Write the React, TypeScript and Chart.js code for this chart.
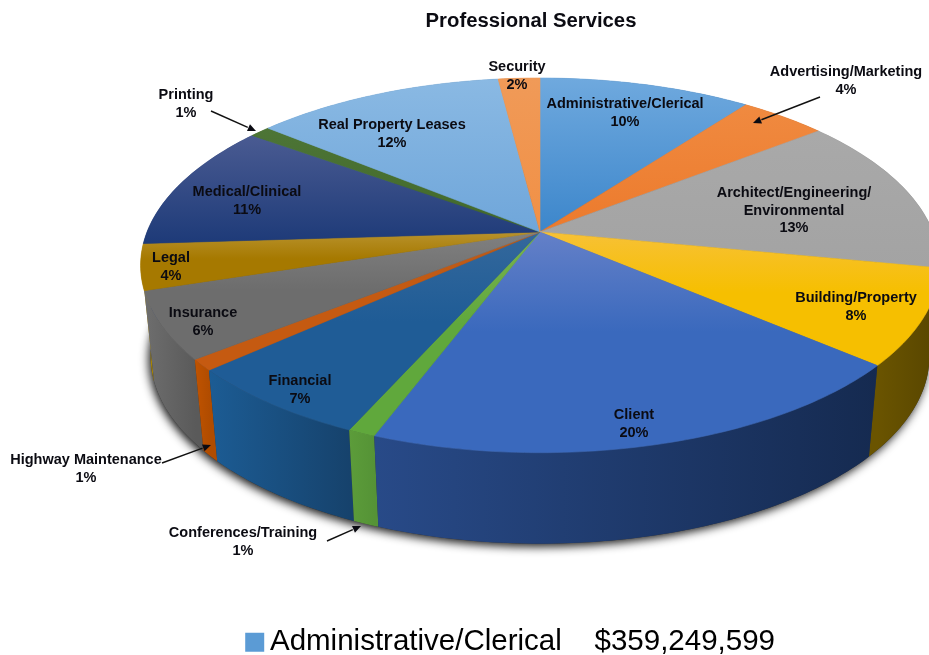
import React, { useEffect, useRef } from "react";
import { Chart, PieController, ArcElement, Legend, Title } from "chart.js";

const categories = [
  "Administrative/Clerical",
  "Advertising/Marketing",
  "Architect/Engineering/Environmental",
  "Building/Property",
  "Client",
  "Conferences/Training",
  "Financial",
  "Highway Maintenance",
  "Insurance",
  "Legal",
  "Medical/Clinical",
  "Printing",
  "Real Property Leases",
  "Security",
];
const sharePercent = [10, 4, 13, 8, 20, 1, 7, 1, 6, 4, 11, 1, 12, 2];
const legendCategory = "Administrative/Clerical";
const legendAmount = "$359,249,599";

// Face colours run top to bottom, rim colours run left to right.
const faceTop = ["#6fa9de", "#f08a40", "#a9a9a9", "#f7c136", "#6480c8", "#79b34f", "#34689c", "#b85a1a", "#808080", "#b8922c", "#4a5b92", "#4d7536", "#8ab9e3", "#f09a58"];
const faceBottom = ["#3c86cb", "#ec7a2c", "#a3a3a3", "#f6bf00", "#3a69bd", "#60a83c", "#1f5c96", "#c55a11", "#6d6d6d", "#a67900", "#1d3a78", "#41682a", "#6fa6da", "#f19045"];
const rimLeft = ["#3c6ea0", "#b05a20", "#7a7a7a", "#6a5400", "#284a88", "#5c9c3a", "#1c5c94", "#c05300", "#6e6e6e", "#a88400", "#1a3060", "#3a5a25", "#5a8ab5", "#b06a30"];
const rimRight = ["#2e5680", "#8a4518", "#5f5f5f", "#574500", "#152a50", "#559336", "#16426c", "#b04c00", "#5a5a5a", "#a88400", "#1a3060", "#3a5a25", "#4a7298", "#8a5225"];

// Text placed on or beside the pie: category lines plus the percentage line.
const labelLines = [
  ["Administrative/Clerical", "10%"],
  ["Advertising/Marketing", "4%"],
  ["Architect/Engineering/", "Environmental", "13%"],
  ["Building/Property", "8%"],
  ["Client", "20%"],
  ["Conferences/Training", "1%"],
  ["Financial", "7%"],
  ["Highway Maintenance", "1%"],
  ["Insurance", "6%"],
  ["Legal", "4%"],
  ["Medical/Clinical", "11%"],
  ["Printing", "1%"],
  ["Real Property Leases", "12%"],
  ["Security", "2%"],
];
const labelAnchor = [
  [625, 104], [846, 72], [794, 193], [856, 298], [634, 415], [243, 533], [300, 381],
  [86, 460], [203, 313], [171, 258], [247, 192], [186, 95], [392, 125], [517, 67],
];
const leaders = [
  [211, 111, 256, 131],
  [820, 97, 753, 123],
  [162, 463, 211, 445],
  [327, 541, 361, 526],
];

// Pie projection: a disc tilted away from the viewer.
const CX = 540;
const CY = 232;
const RX = 393;
const RY = 181.4;
const TILT = 0.178;
const DEPTH = 91;
const BASE_SHRINK = 0.975;
const FONT = '"Liberation Sans", Arial, sans-serif';

function rimPoint(fraction: number, lower: boolean) {
  const t = ((fraction % 1) + 1) % 1;
  const bend = t < 0.75 ? 0.013 * Math.sin((Math.PI * t) / 0.75) ** 2 : 0;
  const a = 2 * Math.PI * (t + bend);
  const u = Math.sin(a);
  const v = -Math.cos(a);
  const d = 1 - TILT * v;
  const x = (RX * u) / d;
  const y = (RY * v) / d;
  return lower
    ? { x: CX + x * BASE_SHRINK, y: CY + y + DEPTH }
    : { x: CX + x, y: CY + y };
}

function traceRim(ctx: CanvasRenderingContext2D, from: number, to: number, lower: boolean, move: boolean) {
  const steps = Math.max(4, Math.ceil(Math.abs(to - from) * 360));
  for (let i = 0; i <= steps; i++) {
    const p = rimPoint(from + ((to - from) * i) / steps, lower);
    if (i === 0 && move) ctx.moveTo(p.x, p.y);
    else ctx.lineTo(p.x, p.y);
  }
}

class TiltedPieController extends PieController {
  static id = "tiltedPie";
  static defaults = PieController.defaults;
  static overrides = PieController.overrides;

  draw() {
    const ctx: CanvasRenderingContext2D = this.chart.ctx;
    const arcs: any[] = this.getMeta().data;
    const spans = arcs.map((arc, index) => {
      const start = (arc.startAngle + Math.PI / 2) / (2 * Math.PI);
      const end = (arc.endAngle + Math.PI / 2) / (2 * Math.PI);
      return { index, start, end };
    });

    // Soft shadow beneath the lower edge of the pie.
    ctx.save();
    ctx.shadowColor = "rgba(0,0,0,0.9)";
    ctx.shadowBlur = 10;
    ctx.shadowOffsetX = -2;
    ctx.shadowOffsetY = 3;
    ctx.fillStyle = "#333";
    ctx.beginPath();
    traceRim(ctx, 0, 1, true, true);
    ctx.closePath();
    ctx.fill();
    ctx.restore();

    // Rim walls, rear ones first so that nearer ones overlap them.
    const depthOf = (s: { start: number; end: number }) => rimPoint((s.start + s.end) / 2, false).y;
    [...spans].sort((a, b) => depthOf(a) - depthOf(b)).forEach((s) => {
      const p0 = rimPoint(s.start, false);
      const p1 = rimPoint(s.end, false);
      const left = Math.min(p0.x, p1.x);
      const right = Math.max(p0.x, p1.x);
      const g = ctx.createLinearGradient(left, 0, right + 1, 0);
      g.addColorStop(0, rimLeft[s.index]);
      g.addColorStop(1, rimRight[s.index]);
      ctx.fillStyle = g;
      ctx.beginPath();
      traceRim(ctx, s.start, s.end, false, true);
      traceRim(ctx, s.end, s.start, true, false);
      ctx.closePath();
      ctx.fill();
    });

    // Top faces, lit from the far edge towards the viewer.
    spans.forEach((s) => {
      let minY = CY;
      let maxY = CY;
      for (let i = 0; i <= 40; i++) {
        const y = rimPoint(s.start + ((s.end - s.start) * i) / 40, false).y;
        minY = Math.min(minY, y);
        maxY = Math.max(maxY, y);
      }
      const g = ctx.createLinearGradient(0, minY, 0, maxY + 1);
      const mid = minY < CY - 2;
      g.addColorStop(0, faceTop[s.index]);
      g.addColorStop(mid ? 1 : 0.45, faceBottom[s.index]);
      if (!mid) g.addColorStop(1, faceBottom[s.index]);
      ctx.fillStyle = g;
      ctx.strokeStyle = g;
      ctx.lineWidth = 0.6;
      ctx.beginPath();
      ctx.moveTo(CX, CY);
      traceRim(ctx, s.start, s.end, false, false);
      ctx.closePath();
      ctx.fill();
      ctx.stroke();
    });
  }
}

const pieAnnotations = {
  id: "pieAnnotations",
  afterDraw(chart: Chart) {
    const ctx = chart.ctx;
    ctx.save();
    ctx.fillStyle = "#0b0b12";
    ctx.font = `bold 14.5px ${FONT}`;
    ctx.textAlign = "center";
    ctx.textBaseline = "middle";
    labelLines.forEach((lines, i) => {
      lines.forEach((line, j) => {
        ctx.fillText(line, labelAnchor[i][0], labelAnchor[i][1] + j * 17.5);
      });
    });
    ctx.strokeStyle = "#111";
    ctx.lineWidth = 1.4;
    leaders.forEach(([x0, y0, x1, y1]) => {
      const angle = Math.atan2(y1 - y0, x1 - x0);
      const neck = 9;
      ctx.beginPath();
      ctx.moveTo(x0, y0);
      ctx.lineTo(x1 - neck * Math.cos(angle), y1 - neck * Math.sin(angle));
      ctx.stroke();
      ctx.beginPath();
      ctx.moveTo(x1, y1);
      ctx.lineTo(x1 - neck * Math.cos(angle - 0.42), y1 - neck * Math.sin(angle - 0.42));
      ctx.lineTo(x1 - neck * Math.cos(angle + 0.42), y1 - neck * Math.sin(angle + 0.42));
      ctx.closePath();
      ctx.fill();
    });
    ctx.restore();
  },
};

Chart.register(TiltedPieController, ArcElement, Legend, Title);

export default function App() {
  const canvasRef = useRef<HTMLCanvasElement | null>(null);

  useEffect(() => {
    const chart = new Chart(canvasRef.current as HTMLCanvasElement, {
      type: "tiltedPie" as any,
      data: {
        labels: categories,
        datasets: [{ data: sharePercent, backgroundColor: faceBottom, borderWidth: 0 }],
      },
      options: {
        animation: false,
        responsive: false,
        layout: { padding: { left: 133, right: 0, top: 0, bottom: -12 } },
        plugins: {
          title: {
            display: true,
            text: "Professional Services",
            color: "#0b0b12",
            font: { family: FONT, size: 20.3, weight: "bold" },
            padding: { top: 9, bottom: 0 },
          },
          legend: {
            display: true,
            position: "bottom",
            labels: {
              color: "#444444",
              font: { family: FONT, size: 29.5 },
              usePointStyle: true,
              boxWidth: 1,
              boxHeight: 19,
              padding: 2,
              generateLabels: () => [
                {
                  text: `${legendCategory}    ${legendAmount}    `,
                  fillStyle: "#5b9bd5",
                  strokeStyle: "#5b9bd5",
                  lineWidth: 0,
                  hidden: false,
                  index: 0,
                  pointStyle: "rect",
                  rotation: 0,
                },
              ],
            },
          },
          tooltip: { enabled: false },
        },
      } as any,
      plugins: [pieAnnotations],
    });
    return () => chart.destroy();
  }, []);

  return (
    <div style={{ position: "fixed", left: 0, top: 0, width: 929, height: 655, background: "#fff" }}>
      <canvas ref={canvasRef} width={929} height={655} style={{ display: "block" }} />
    </div>
  );
}
